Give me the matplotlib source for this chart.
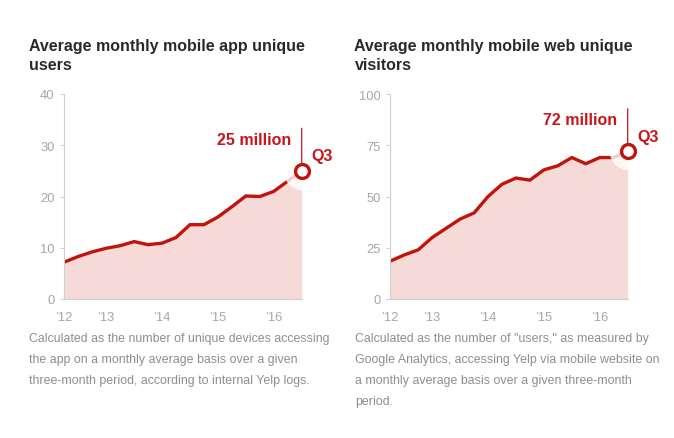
import matplotlib
matplotlib.use("Agg")
import matplotlib.pyplot as plt

plt.rcParams['font.family'] = ['Liberation Sans', 'DejaVu Sans']

W, H = 674, 439
quarters = list(range(18))
app_users = [7.2, 8.3, 9.2, 9.9, 10.4, 11.2, 10.6, 10.9, 12.0, 14.5, 14.5, 16.0, 18.0, 20.1, 20.0, 21.0, 23.0, 25.0]
web_users = [18.5, 21.5, 24.0, 30.0, 34.5, 39.0, 42.0, 50.0, 56.0, 59.0, 58.0, 63.0, 65.0, 69.0, 66.0, 69.0, 69.0, 72.0]
year_ticks = [0, 3, 7, 11, 15]
year_labels = ["\u201912", "\u201913", "\u201914", "\u201915", "\u201916"]
app_yticks = [0, 10, 20, 30, 40]
web_yticks = [0, 25, 50, 75, 100]
app_title = ["Average monthly mobile app unique", "users"]
web_title = ["Average monthly mobile web unique", "visitors"]
app_note = ["Calculated as the number of unique devices accessing",
            "the app on a monthly average basis over a given",
            "three-month period, according to internal Yelp logs."]
web_note = ["Calculated as the number of \"users,\" as measured by",
            "Google Analytics, accessing Yelp via mobile website on",
            "a monthly average basis over a given three-month",
            "period."]

RED = "#c0140c"
TXT_RED = "#c4161c"
FILL = "#f6dad7"
GRAY = "#a6a6a6"
NOTE = "#8e8e8e"
TITLE = "#2a2a2a"
AXIS = "#cfcfcf"

fig = plt.figure(figsize=(W / 100, H / 100), dpi=100, facecolor="white")


def fx(px):
    return px / W


def fy(py):
    return 1 - py / H


def panel(left, right, values, yticks, title, note, label, title_x, note_x):
    ax = fig.add_axes([fx(left), fy(300), fx(right - left), (300 - 95) / H])
    ax.set_xlim(0, 17)
    ax.set_ylim(yticks[0], yticks[-1])
    ax.fill_between(quarters, values, 0, color=FILL, lw=0, zorder=1)
    ax.plot(quarters, values, color=RED, lw=2.4, solid_capstyle="butt",
            solid_joinstyle="miter", zorder=2)
    ax.plot(quarters[-1], values[-1], "o", ms=27, mfc="white", mec="none",
            alpha=0.8, clip_on=False, zorder=3)
    ax.annotate("", xy=(quarters[-1], values[-1]), xytext=(0, 30.7),
                textcoords=("offset points"), annotation_clip=False, zorder=4,
                arrowprops=dict(arrowstyle="-", color=TXT_RED, lw=0.9,
                                shrinkA=0, shrinkB=0))
    ax.plot(quarters[-1], values[-1], "o", ms=10, mfc="white", mec=RED,
            mew=2.4, clip_on=False, zorder=5)
    ax.annotate(label, xy=(quarters[-1], values[-1]), xytext=(-7.7, 22.8),
                textcoords="offset points", ha="right", va="center",
                color=TXT_RED, fontsize=11.5, fontweight="bold", zorder=6)
    ax.annotate("Q3", xy=(quarters[-1], values[-1]), xytext=(7.2, 10.8),
                textcoords="offset points", ha="left", va="center",
                color=TXT_RED, fontsize=11.5, fontweight="bold", zorder=6)
    for s in ("top", "right"):
        ax.spines[s].set_visible(False)
    for s in ("left", "bottom"):
        ax.spines[s].set_color(AXIS)
        ax.spines[s].set_linewidth(0.8)
    ax.set_yticks(yticks)
    ax.set_xticks(year_ticks)
    ax.set_xticklabels(year_labels)
    ax.tick_params(axis="y", length=3, width=0.7, color=AXIS, labelcolor=GRAY,
                   labelsize=9.3, pad=4)
    ax.tick_params(axis="x", length=0, labelcolor=GRAY, labelsize=9.3, pad=8.5)
    for i, line in enumerate(title):
        fig.text(fx(title_x), fy(46 + 20 * i), line, color=TITLE, fontsize=11.5,
                 fontweight="bold", ha="left", va="center")
    for i, line in enumerate(note):
        fig.text(fx(note_x), fy(339 + 21 * i), line, color=NOTE, fontsize=8.9,
                 ha="left", va="center")


panel(64.3, 301.7, app_users, app_yticks, app_title, app_note,
      "25 million", 28.5, 29)
panel(390.3, 627.7, web_users, web_yticks, web_title, web_note,
      "72 million", 354.5, 355)

fig.savefig("out.png", dpi=100)
